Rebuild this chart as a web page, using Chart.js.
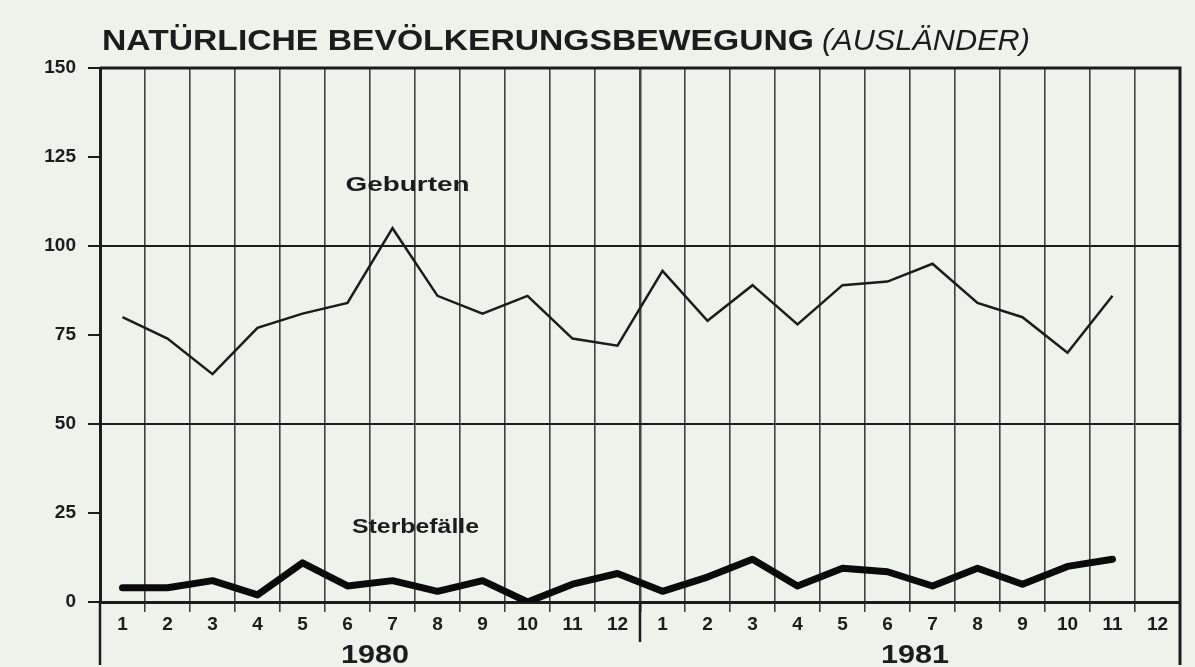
<!DOCTYPE html>
<html>
<head>
<meta charset="utf-8">
<script src="https://cdn.jsdelivr.net/npm/chart.js@4.4.1/dist/chart.umd.min.js"></script>
<style>
  html, body { margin: 0; padding: 0; background: #edf2eb; }
  #wrap { width: 1195px; height: 667px; position: relative; }
</style>
</head>
<body>
<div id="wrap"><canvas id="c" width="1195" height="667"></canvas></div>
<script>
// Monate 1980 und 1981
const months = ['1','2','3','4','5','6','7','8','9','10','11','12',
                '1','2','3','4','5','6','7','8','9','10','11','12'];
const years  = ['1980', '1981'];

const geburten = [80, 74, 64, 77, 81, 84, 105, 86, 81, 86, 74, 72,
                  93, 79, 89, 78, 89, 90, 95, 84, 80, 70, 86, null];
const sterbefaelle = [4, 4, 6, 2, 11, 4.5, 6, 3, 6, 0, 5, 8,
                      3, 7, 12, 4.5, 9.5, 8.5, 4.5, 9.5, 5, 10, 12, null];

const yTicks = [0, 25, 50, 75, 100, 125, 150];

const INK   = '#1c1c1c';
const GRID  = 'rgba(35,35,35,0.85)';
const FONT  = '"Liberation Sans", Arial, sans-serif';

// Text mit fester Breite (breite Grotesk der Vorlage nachahmen)
function wideText(ctx, text, x, y, width, align) {
  const w = ctx.measureText(text).width;
  const sx = width / w;
  ctx.save();
  ctx.translate(align === 'center' ? x - width / 2 : x, y);
  ctx.scale(sx, 1);
  ctx.textAlign = 'left';
  ctx.fillText(text, 0, 0);
  ctx.restore();
}

const decor = {
  id: 'decor',
  beforeDraw(chart) {
    const { ctx } = chart;
    ctx.save();
    ctx.fillStyle = '#edf2eb';
    ctx.fillRect(0, 0, chart.width, chart.height);
    ctx.restore();
  },
  afterDraw(chart) {
    const { ctx, chartArea: a } = chart;
    const x = chart.scales.x, y = chart.scales.y;
    ctx.save();

    // Titel
    ctx.fillStyle = INK;
    ctx.textBaseline = 'alphabetic';
    ctx.font = 'bold 30px ' + FONT;
    wideText(ctx, 'NATÜRLICHE BEVÖLKERUNGSBEWEGUNG', 102, 50, 712, 'left');
    ctx.font = 'italic 30px ' + FONT;
    wideText(ctx, '(AUSLÄNDER)', 822, 50, 208, 'left');

    // Rahmen oben / rechts
    ctx.strokeStyle = INK;
    ctx.lineWidth = 3;
    ctx.beginPath();
    ctx.moveTo(a.left, a.top);
    ctx.lineTo(a.right, a.top);
    ctx.lineTo(a.right, a.bottom + 63);
    ctx.stroke();

    // verlaengerte Achse links und Jahrestrennung
    ctx.lineWidth = 2.5;
    ctx.beginPath();
    ctx.moveTo(a.left, a.bottom);
    ctx.lineTo(a.left, a.bottom + 63);
    const mid = (x.getPixelForValue(11) + x.getPixelForValue(12)) / 2;
    ctx.moveTo(mid, a.bottom);
    ctx.lineTo(mid, a.bottom + 40);
    ctx.stroke();

    // Jahre
    ctx.font = 'bold 25px ' + FONT;
    ctx.textBaseline = 'middle';
    years.forEach((yr, i) => {
      const cx = (x.getPixelForValue(i * 12 + 5) + x.getPixelForValue(i * 12 + 6)) / 2 + 5;
      wideText(ctx, yr, cx, a.bottom + 54, 68, 'center');
    });

    // Reihenbeschriftung
    ctx.font = 'bold 21px ' + FONT;
    wideText(ctx, 'Geburten', x.getPixelForValue(6) + 15, y.getPixelForValue(117), 124, 'center');
    wideText(ctx, 'Sterbefälle', x.getPixelForValue(6) + 23, y.getPixelForValue(21), 127, 'center');

    ctx.restore();
  }
};

new Chart(document.getElementById('c'), {
  type: 'line',
  data: {
    labels: months,
    datasets: [
      {
        label: 'Geburten',
        data: geburten,
        borderColor: INK,
        borderWidth: 2.5,
        pointRadius: 0,
        tension: 0,
        spanGaps: false,
      },
      {
        label: 'Sterbefälle',
        data: sterbefaelle,
        borderColor: '#0a0a0a',
        borderWidth: 7,
        borderJoinStyle: 'round',
        borderCapStyle: 'round',
        pointRadius: 0,
        tension: 0,
        spanGaps: false,
      },
    ],
  },
  options: {
    responsive: false,
    animation: false,
    layout: { padding: { top: 68, right: 15, left: 0, bottom: 0 } },
    plugins: {
      legend: { display: false },
      tooltip: { enabled: false },
      title: { display: false },
    },
    scales: {
      x: {
        type: 'category',
        offset: true,
        grid: {
          offset: true,
          color: GRID,
          lineWidth: ctx => (ctx.index === 12 ? 2.5 : 1.6),
          tickLength: 10,
          drawOnChartArea: true,
        },
        border: { color: INK, width: 3 },
        ticks: {
          color: INK,
          font: { family: FONT, size: 19, weight: 'bold' },
          padding: 1,
          maxRotation: 0,
          autoSkip: false,
        },
        afterFit: s => { s.height = 65; },
      },
      y: {
        min: 0,
        max: 150,
        afterBuildTicks: s => { s.ticks = yTicks.map(v => ({ value: v })); },
        grid: {
          color: ctx => (ctx.tick && ctx.tick.value % 50 === 0 ? INK : 'rgba(0,0,0,0)'),
          tickColor: INK,
          lineWidth: 2,
          tickLength: 12,
        },
        border: { color: INK, width: 3 },
        ticks: {
          color: INK,
          font: { family: FONT, size: 19, weight: 'bold' },
          padding: 12,
        },
        afterFit: s => { s.width = 100; },
      },
    },
  },
  plugins: [decor],
});
</script>
</body>
</html>
